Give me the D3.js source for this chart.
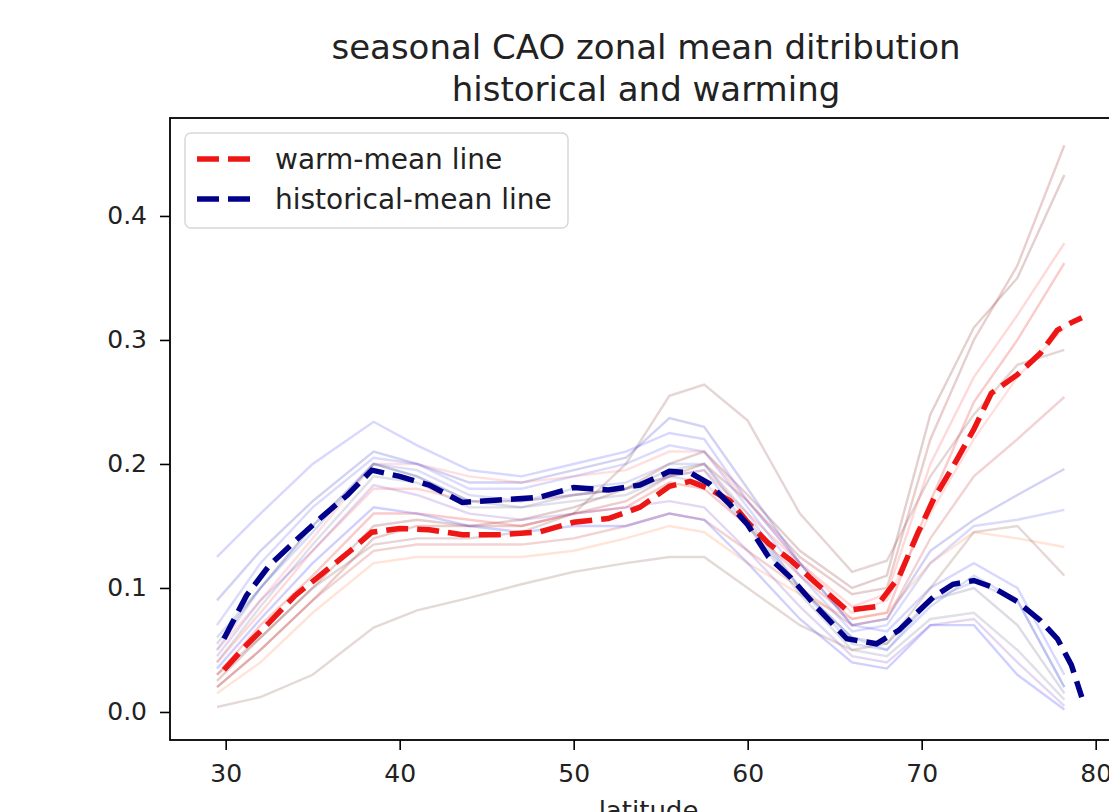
<!DOCTYPE html>
<html>
<head>
<meta charset="utf-8">
<script src="https://cdn.jsdelivr.net/npm/d3@7"></script>
<style>
  html, body { margin: 0; padding: 0; background: #fff; overflow: hidden; }
  svg { display: block; font-family: "DejaVu Sans", sans-serif; }
</style>
</head>
<body>
<svg id="chart" width="1109" height="812"></svg>
<script>
/* ─── Data ───────────────────────────────────────────────────────────────── */

// latitude grid of the two ensemble-mean lines
const latMean = [29.9, 31.2, 32.5, 34, 35.5, 37, 38.4, 40, 41.7, 43.6, 45.7, 48, 50, 52, 53.8,
  55.5, 56.7, 57.8, 59, 60, 61.2, 62.5, 64, 65.7, 67.4, 68.7, 69.8, 70.7, 71.8, 73, 74, 75.5,
  76.8, 77.8, 78.6, 79.2];

const warmMean = [0.034, 0.054, 0.072, 0.094, 0.111, 0.128, 0.145, 0.148, 0.147, 0.143, 0.143,
  0.145, 0.153, 0.156, 0.165, 0.182, 0.186, 0.180, 0.170, 0.153, 0.136, 0.122, 0.103, 0.082,
  0.085, 0.109, 0.145, 0.172, 0.198, 0.228, 0.257, 0.272, 0.289, 0.308, 0.314, 0.318];

const histMean = [0.059, 0.094, 0.118, 0.138, 0.157, 0.175, 0.195, 0.190, 0.183, 0.169, 0.171,
  0.173, 0.181, 0.179, 0.183, 0.194, 0.193, 0.184, 0.167, 0.151, 0.125, 0.108, 0.084, 0.059,
  0.055, 0.066, 0.081, 0.093, 0.103, 0.106, 0.101, 0.089, 0.074, 0.059, 0.038, 0.012];

// coarser grid of the individual model runs
const latRun = [29.5, 32, 35, 38.5, 41, 44, 47, 50, 53, 55.5, 57.5, 60, 63, 66, 68, 70.5, 73, 75.5, 78.2];

const warmRuns = [
  [0.020, 0.050, 0.090, 0.140, 0.150, 0.150, 0.150, 0.160, 0.170, 0.190, 0.200, 0.170, 0.125, 0.095, 0.100, 0.220, 0.300, 0.360, 0.457],
  [0.025, 0.060, 0.100, 0.150, 0.155, 0.150, 0.155, 0.165, 0.180, 0.200, 0.210, 0.175, 0.130, 0.100, 0.110, 0.240, 0.310, 0.350, 0.433],
  [0.040, 0.080, 0.130, 0.180, 0.180, 0.170, 0.170, 0.175, 0.180, 0.190, 0.195, 0.160, 0.120, 0.085, 0.095, 0.200, 0.270, 0.320, 0.378],
  [0.030, 0.070, 0.110, 0.160, 0.160, 0.155, 0.150, 0.160, 0.165, 0.185, 0.180, 0.150, 0.110, 0.075, 0.080, 0.170, 0.250, 0.300, 0.362],
  [0.030, 0.060, 0.100, 0.135, 0.140, 0.140, 0.145, 0.160, 0.200, 0.255, 0.264, 0.235, 0.160, 0.113, 0.122, 0.190, 0.240, 0.280, 0.292],
  [0.050, 0.090, 0.140, 0.200, 0.200, 0.190, 0.185, 0.190, 0.195, 0.210, 0.210, 0.170, 0.120, 0.080, 0.090, 0.160, 0.220, 0.270, 0.310],
  [0.020, 0.050, 0.090, 0.130, 0.135, 0.135, 0.135, 0.140, 0.150, 0.160, 0.155, 0.130, 0.100, 0.070, 0.075, 0.140, 0.190, 0.220, 0.254],
  [0.015, 0.040, 0.080, 0.120, 0.125, 0.125, 0.125, 0.130, 0.140, 0.150, 0.145, 0.120, 0.095, 0.075, 0.080, 0.120, 0.145, 0.140, 0.133],
  [0.004, 0.012, 0.030, 0.068, 0.082, 0.092, 0.103, 0.113, 0.120, 0.125, 0.125, 0.100, 0.070, 0.050, 0.055, 0.100, 0.145, 0.150, 0.110],
];

const histRuns = [
  [0.125, 0.160, 0.200, 0.234, 0.215, 0.195, 0.190, 0.200, 0.210, 0.225, 0.220, 0.170, 0.120, 0.070, 0.065, 0.100, 0.120, 0.100, 0.030],
  [0.090, 0.130, 0.170, 0.210, 0.200, 0.185, 0.185, 0.195, 0.205, 0.237, 0.230, 0.180, 0.120, 0.070, 0.075, 0.130, 0.155, 0.175, 0.196],
  [0.070, 0.120, 0.165, 0.205, 0.200, 0.180, 0.180, 0.190, 0.200, 0.215, 0.210, 0.165, 0.110, 0.065, 0.070, 0.120, 0.150, 0.155, 0.163],
  [0.050, 0.100, 0.150, 0.200, 0.195, 0.175, 0.170, 0.180, 0.185, 0.200, 0.200, 0.160, 0.100, 0.055, 0.050, 0.090, 0.105, 0.090, 0.020],
  [0.040, 0.085, 0.135, 0.190, 0.185, 0.165, 0.165, 0.170, 0.175, 0.190, 0.185, 0.150, 0.095, 0.050, 0.045, 0.075, 0.080, 0.050, 0.010],
  [0.045, 0.090, 0.130, 0.183, 0.175, 0.160, 0.155, 0.160, 0.165, 0.170, 0.165, 0.130, 0.085, 0.045, 0.040, 0.070, 0.075, 0.040, 0.005],
  [0.060, 0.100, 0.145, 0.200, 0.190, 0.170, 0.170, 0.175, 0.180, 0.190, 0.195, 0.150, 0.100, 0.060, 0.050, 0.085, 0.110, 0.090, 0.020],
  [0.035, 0.075, 0.120, 0.165, 0.160, 0.150, 0.145, 0.150, 0.150, 0.160, 0.155, 0.120, 0.075, 0.040, 0.035, 0.070, 0.070, 0.030, 0.002],
  [0.055, 0.100, 0.150, 0.200, 0.190, 0.170, 0.165, 0.175, 0.180, 0.195, 0.200, 0.155, 0.100, 0.060, 0.055, 0.090, 0.100, 0.070, 0.015],
];

const xTicks = [30, 40, 50, 60, 70, 80];
const yTicks = [0.0, 0.1, 0.2, 0.3, 0.4];

const warmColors = ['#a52a2a', '#8b3030', '#ff5a5a', '#e82020', '#904848', '#ff7a7a', '#c83c3c', '#ff8a50', '#8b5a4a'];
const histColors = ['#4a4aff', '#3030c8', '#5a5aee', '#6a6ad8', '#707098', '#8048c8', '#4466e0', '#2a2aff', '#606088'];

/* ─── Layout ─────────────────────────────────────────────────────────────── */

const svg = d3.select('#chart');
const plot = { left: 170, top: 118, right: 1127, bottom: 740 };

const x = d3.scaleLinear().domain([26.8, 81.8]).range([plot.left, plot.right]);
const y = d3.scaleLinear().domain([-0.0226, 0.479]).range([plot.bottom, plot.top]);

svg.append('defs').append('clipPath').attr('id', 'clip')
  .append('rect')
  .attr('x', plot.left).attr('y', plot.top)
  .attr('width', plot.right - plot.left).attr('height', plot.bottom - plot.top);

/* ─── Lines ──────────────────────────────────────────────────────────────── */

const g = svg.append('g').attr('clip-path', 'url(#clip)');

const runLine = d3.line().x((d, i) => x(latRun[i])).y(d => y(d));
const meanLine = d3.line().x((d, i) => x(latMean[i])).y(d => y(d));

g.selectAll('path.warm-run')
  .data(warmRuns)
  .join('path')
  .attr('class', 'warm-run')
  .attr('d', runLine)
  .attr('fill', 'none')
  .attr('stroke', (d, i) => warmColors[i])
  .attr('stroke-opacity', 0.23)
  .attr('stroke-width', 2.4);

g.selectAll('path.hist-run')
  .data(histRuns)
  .join('path')
  .attr('class', 'hist-run')
  .attr('d', runLine)
  .attr('fill', 'none')
  .attr('stroke', (d, i) => histColors[i])
  .attr('stroke-opacity', 0.22)
  .attr('stroke-width', 2.4);

const means = [
  { name: 'warm-mean line',       values: warmMean, color: '#ee1515' },
  { name: 'historical-mean line', values: histMean, color: '#00008b' },
];

g.selectAll('path.mean')
  .data(means)
  .join('path')
  .attr('class', 'mean')
  .attr('d', d => meanLine(d.values))
  .attr('fill', 'none')
  .attr('stroke', d => d.color)
  .attr('stroke-width', 5.5)
  .attr('stroke-dasharray', '22 9');

/* ─── Axes ───────────────────────────────────────────────────────────────── */

const xAxis = d3.axisBottom(x).tickValues(xTicks).tickFormat(d3.format('d'))
  .tickSize(10).tickPadding(14);
const yAxis = d3.axisLeft(y).tickValues(yTicks).tickFormat(d3.format('.1f'))
  .tickSize(10).tickPadding(13);

svg.append('g').attr('transform', `translate(0,${plot.bottom})`).call(xAxis)
  .call(a => a.select('.domain').remove());
svg.append('g').attr('transform', `translate(${plot.left},0)`).call(yAxis)
  .call(a => a.select('.domain').remove());

svg.selectAll('.tick line').attr('stroke', '#000').attr('stroke-width', 1.6);
svg.selectAll('.tick text').attr('fill', '#222').style('font-size', '25px')
  .style('font-family', '"DejaVu Sans", sans-serif');

// frame
svg.append('rect')
  .attr('x', plot.left).attr('y', plot.top)
  .attr('width', plot.right - plot.left).attr('height', plot.bottom - plot.top)
  .attr('fill', 'none').attr('stroke', '#000').attr('stroke-width', 1.8);

svg.append('text')
  .attr('x', (plot.left + plot.right) / 2).attr('y', 820)
  .attr('text-anchor', 'middle')
  .style('font-size', '26px').attr('fill', '#222')
  .text('latitude');

/* ─── Title ──────────────────────────────────────────────────────────────── */

const titleLines = ['seasonal CAO zonal mean ditribution', 'historical and warming'];
svg.selectAll('text.title')
  .data(titleLines)
  .join('text')
  .attr('class', 'title')
  .attr('x', 646)
  .attr('y', (d, i) => 59 + i * 42)
  .attr('text-anchor', 'middle')
  .style('font-size', '34px')
  .attr('fill', '#222')
  .text(d => d);

/* ─── Legend ─────────────────────────────────────────────────────────────── */

const legend = svg.append('g');
legend.append('rect')
  .attr('x', 185).attr('y', 133).attr('width', 383).attr('height', 95)
  .attr('rx', 6)
  .attr('fill', '#fff').attr('fill-opacity', 0.85)
  .attr('stroke', '#d8d8d8').attr('stroke-width', 1.5);

const item = legend.selectAll('g.item')
  .data(means)
  .join('g')
  .attr('class', 'item')
  .attr('transform', (d, i) => `translate(0,${159 + i * 40})`);

item.append('line')
  .attr('x1', 197).attr('x2', 258)
  .attr('stroke', d => d.color)
  .attr('stroke-width', 5.5)
  .attr('stroke-dasharray', '22 9');

item.append('text')
  .attr('x', 275).attr('dy', '0.35em')
  .style('font-size', '28px').attr('fill', '#222')
  .text(d => d.name);
</script>
</body>
</html>
